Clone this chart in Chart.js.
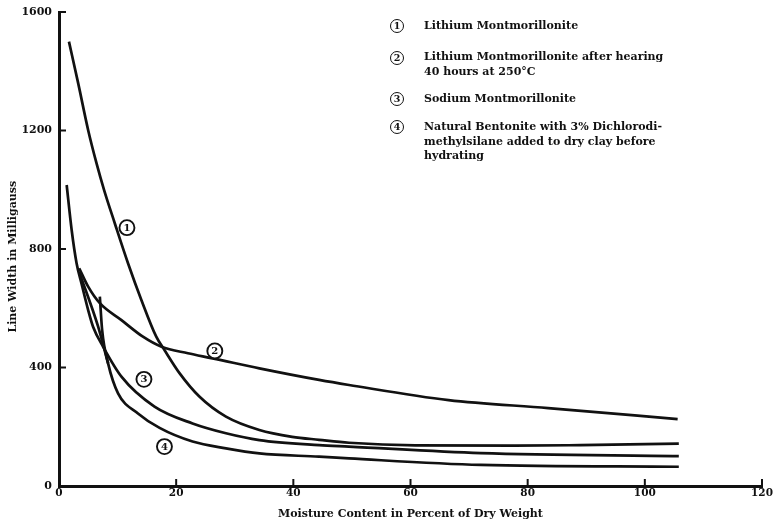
<!DOCTYPE html>
<html>
<head>
<meta charset="utf-8">
<script src="https://cdn.jsdelivr.net/npm/chart.js@4.4.1/dist/chart.umd.min.js"></script>
<style>
  body { margin: 0; background: #fff; }
  #wrap { position: relative; width: 773px; height: 522px; }
  .key { position: absolute; font: bold 11px "DejaVu Serif", serif; color: #111; line-height: 14.5px; white-space: nowrap; }
  .ring { position: absolute; width: 12px; height: 12px; border: 1.9px solid #111; border-radius: 50%;
          font: bold 9.5px "DejaVu Serif", serif; text-align: center; line-height: 12px; color: #111; }
</style>
</head>
<body>
<div id="wrap">
  <canvas id="grafik" width="773" height="522"></canvas>
  <div class="ring" style="left:390px;top:19px">1</div>
  <div class="key" style="left:424px;top:19px">Lithium Montmorillonite</div>
  <div class="ring" style="left:390px;top:51px">2</div>
  <div class="key" style="left:424px;top:50px">Lithium Montmorillonite after hearing<br>40 hours at 250°C</div>
  <div class="ring" style="left:390px;top:92px">3</div>
  <div class="key" style="left:424px;top:92px">Sodium Montmorillonite</div>
  <div class="ring" style="left:390px;top:120px">4</div>
  <div class="key" style="left:424px;top:120px">Natural Bentonite with 3% Dichlorodi-<br>methylsilane added to dry clay before<br>hydrating</div>
</div>
<script>
// sumbu
const xTicks = [0, 20, 40, 60, 80, 100, 120];
const yTicks = [0, 400, 800, 1200, 1600];

// kurva 1 - Lithium Montmorillonite
const kurva1X = [1.7, 3.28, 4.98, 6.41, 7.7, 9.52, 11.78, 14.06, 16.6, 18.0, 20.6, 24.0, 28.5, 34.2, 39.8, 44.4, 49.5, 60.8, 77.8, 89, 105.8];
const kurva1Y = [1500, 1359, 1201, 1089, 999, 887, 752, 628, 504, 459, 380, 301, 234, 189, 166, 156, 146, 137, 136, 138, 143];

// kurva 2 - setelah dipanaskan 40 jam
const kurva2X = [3.45, 4.98, 6.97, 10.66, 14.33, 17.5, 22.0, 26.2, 34.2, 44.4, 49.5, 66.5, 83.5, 105.6];
const kurva2Y = [735, 673, 617, 560, 504, 470, 448, 431, 397, 358, 341, 290, 263, 226];

// kurva 3 - Sodium Montmorillonite
const kurva3X = [1.31, 2.16, 3.0, 3.86, 4.98, 5.83, 7.53, 10.66, 16.3, 22.8, 28.5, 34.2, 44.4, 49.5, 72, 105.8];
const kurva3Y = [1016, 864, 752, 682, 594, 537, 470, 369, 268, 211, 178, 155, 138, 133, 111, 101];

// kurva 4 - Natural Bentonite (mulai dari garis tegak)
const kurva4X = [6.97, 7.36, 8.38, 10.08, 13.48, 17.17, 22.8, 28.5, 34.2, 44.4, 49.5, 72, 105.8];
const kurva4Y = [639, 527, 414, 313, 245, 196, 150, 127, 110, 99, 93, 71, 65];

// cabang kurva 4 dari titik awal kurva 2
const cabangX = [3.45, 6.68, 8.38];
const cabangY = [722, 538, 414];

// nomor berlingkar di dalam grafik
const nomorLabel = ['1', '2', '3', '4'];
const nomorX = [11.6, 26.6, 14.5, 18.0];
const nomorY = [872, 456, 360, 133];

const hitam = '#111';
const hurufTebal = { family: '"DejaVu Serif", serif', weight: 'bold', size: 11 };
const hurufTick = { family: '"DejaVu Serif", serif', weight: 'bold', size: 10.5 };

function gabung(xs, ys) {
    return xs.map((x, i) => ({ x: x, y: ys[i] }));
}

function kurva(xs, ys) {
    return {
        data: gabung(xs, ys),
        borderColor: hitam,
        borderWidth: 2.7,
        pointRadius: 0,
        cubicInterpolationMode: 'monotone',
        fill: false
    };
}

// garis tick ke dalam + nomor berlingkar
const tambahan = {
    id: 'tambahan',
    afterDraw(chart) {
        const { ctx, chartArea, scales } = chart;
        ctx.save();
        ctx.strokeStyle = hitam;
        ctx.lineWidth = 2;
        xTicks.forEach(v => {
            const px = scales.x.getPixelForValue(v);
            ctx.beginPath();
            ctx.moveTo(px, chartArea.bottom);
            ctx.lineTo(px, chartArea.bottom - 7);
            ctx.stroke();
        });
        yTicks.forEach(v => {
            const py = scales.y.getPixelForValue(v);
            ctx.beginPath();
            ctx.moveTo(chartArea.left, py);
            ctx.lineTo(chartArea.left + 7, py);
            ctx.stroke();
        });

        ctx.lineWidth = 1.9;
        ctx.font = 'bold 10px "DejaVu Serif", serif';
        ctx.textAlign = 'center';
        ctx.textBaseline = 'middle';
        nomorLabel.forEach((t, i) => {
            const px = scales.x.getPixelForValue(nomorX[i]);
            const py = scales.y.getPixelForValue(nomorY[i]);
            ctx.fillStyle = '#fff';
            ctx.beginPath();
            ctx.arc(px, py, 7.5, 0, Math.PI * 2);
            ctx.fill();
            ctx.stroke();
            ctx.fillStyle = hitam;
            ctx.fillText(t, px, py + 0.5);
        });
        ctx.restore();
    }
};

const ctx = document.getElementById('grafik').getContext('2d');

const grafik = new Chart(ctx, {
    type: 'line',
    data: {
        datasets: [
            kurva(kurva1X, kurva1Y),
            kurva(kurva2X, kurva2Y),
            kurva(kurva3X, kurva3Y),
            kurva(kurva4X, kurva4Y),
            kurva(cabangX, cabangY)
        ]
    },
    options: {
        responsive: false,
        animation: false,
        layout: { padding: { top: 12, right: 11, left: 0, bottom: 0 } },
        plugins: {
            legend: { display: false },
            tooltip: { enabled: false }
        },
        scales: {
            x: {
                type: 'linear',
                min: 0,
                max: 120,
                afterBuildTicks: s => { s.ticks = xTicks.map(v => ({ value: v })); },
                afterFit: s => { s.height = 36; s.paddingRight = 0; s.paddingLeft = 0; },
                grid: { display: false, drawTicks: false },
                border: { display: true, color: hitam, width: 3 },
                ticks: { color: hitam, font: hurufTick, padding: 1, maxRotation: 0, callback: v => String(v) },
                title: {
                    display: true,
                    text: 'Moisture Content in Percent of Dry Weight',
                    color: hitam,
                    font: hurufTebal,
                    padding: { top: 0, bottom: 1.5 }
                }
            },
            y: {
                type: 'linear',
                min: 0,
                max: 1600,
                afterBuildTicks: s => { s.ticks = yTicks.map(v => ({ value: v })); },
                afterFit: s => { s.width = 59; s.paddingTop = 0; s.paddingBottom = 0; },
                grid: { display: false, drawTicks: false },
                border: { display: true, color: hitam, width: 3 },
                ticks: { color: hitam, font: hurufTebal, padding: 7, callback: v => String(v) },
                title: {
                    display: true,
                    text: 'Line Width in Milligauss    ',
                    color: hitam,
                    font: hurufTebal,
                    padding: { top: 6.5, bottom: 0 }
                }
            }
        }
    },
    plugins: [tambahan]
});
</script>
</body>
</html>
